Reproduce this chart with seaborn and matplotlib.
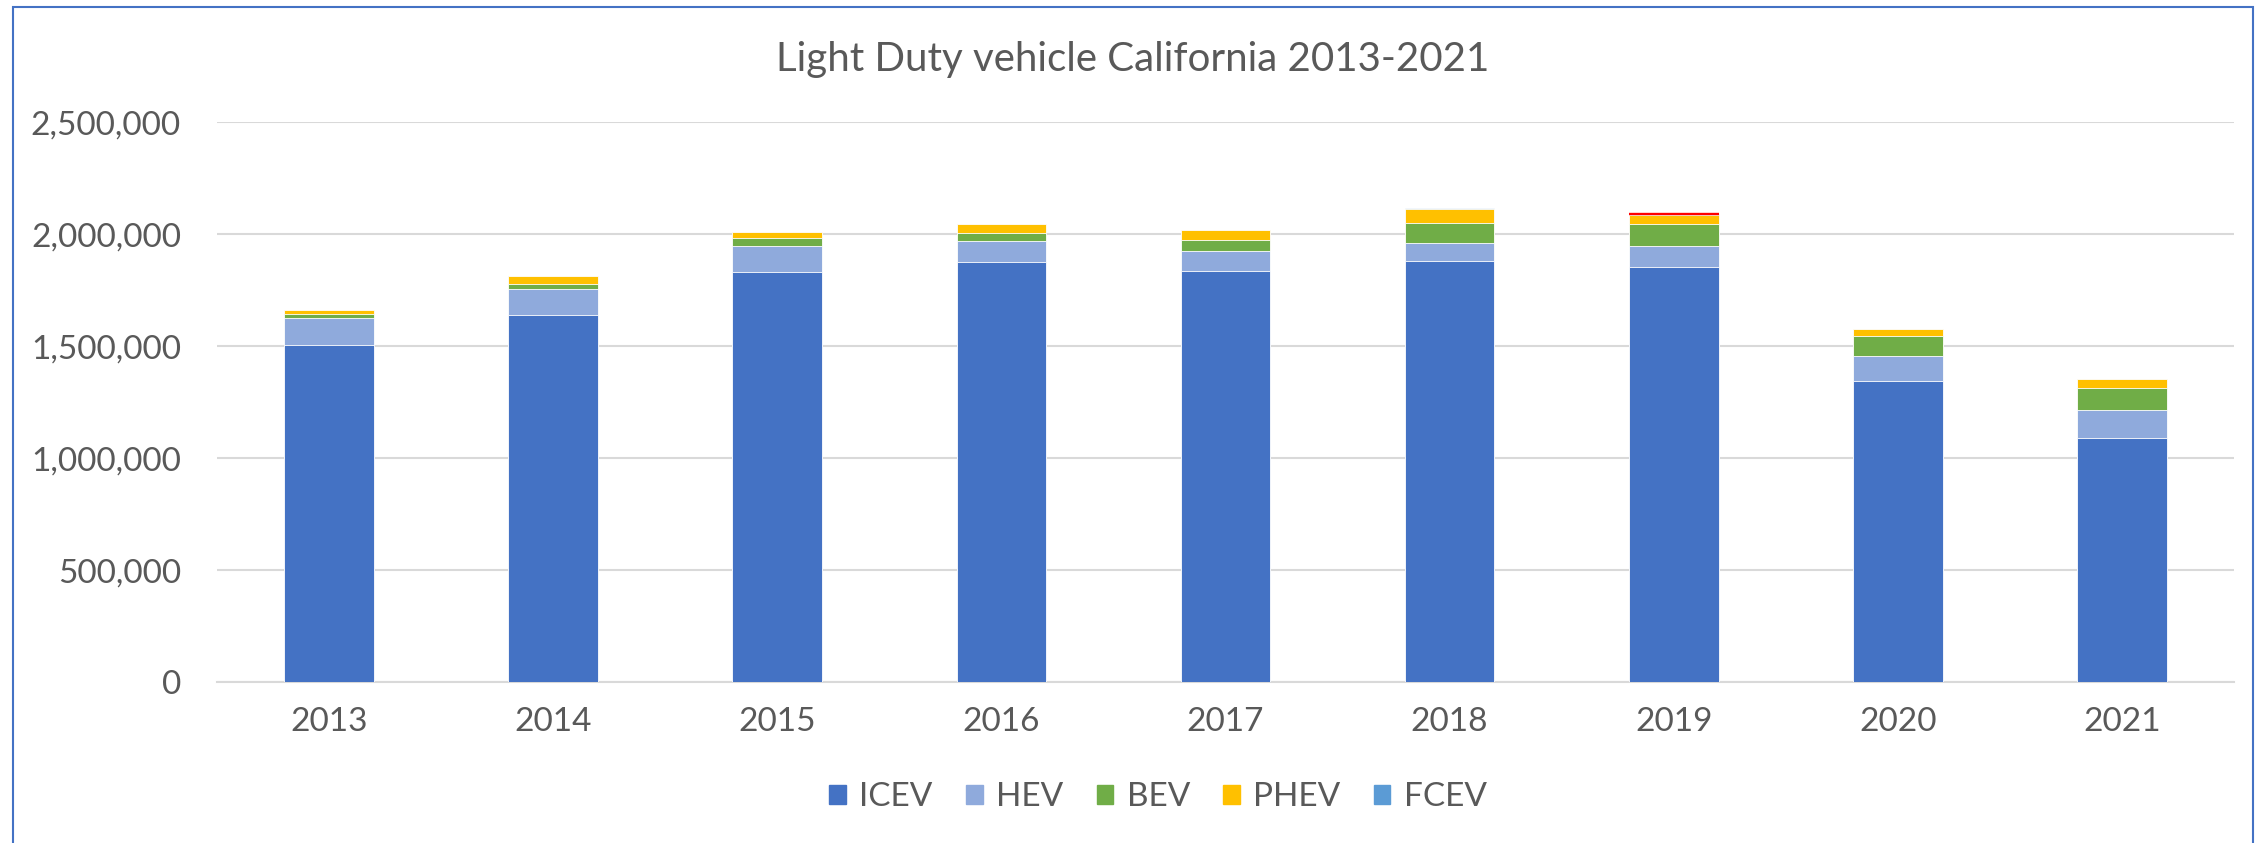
import matplotlib
matplotlib.use("Agg")
import matplotlib.pyplot as plt
import matplotlib.patches as mpatches
import seaborn as sns
import pandas as pd
import numpy as np

years = ["2013", "2014", "2015", "2016", "2017", "2018", "2019", "2020", "2021"]
icev = [1506000, 1640000, 1833000, 1875000, 1835000, 1881000, 1853000, 1346000, 1089000]
hev = [119000, 114000, 116000, 96000, 90000, 79000, 95000, 112000, 127000]
bev = [21000, 26000, 33000, 36000, 48000, 89000, 99000, 89000, 97000]
phev = [17000, 32000, 30000, 38000, 46000, 64000, 41000, 30000, 40000]
fcev = [0, 100, 100, 1000, 2300, 2400, 1800, 900, 2300]
series_names = ["ICEV", "HEV", "BEV", "PHEV", "FCEV"]
colors = ["#4472C4", "#8FAADC", "#70AD47", "#FFC000", "#5B9BD5"]
yticks = [0, 500000, 1000000, 1500000, 2000000, 2500000]
highlight_year = "2019"

sns.set_theme(style="white")
plt.rcParams['font.family'] = ['Lato', 'DejaVu Sans']
text_color = "#595959"

df = pd.DataFrame({"year": years, "ICEV": icev, "HEV": hev, "BEV": bev,
                   "PHEV": phev, "FCEV": fcev})
cum = df[series_names].cumsum(axis=1)
cum["year"] = df["year"]

fig = plt.figure(figsize=(22.64, 8.43), dpi=100)
ax = fig.add_axes([217/2264, 1-682.3/843, (2234-217)/2264, (682.3-122.3)/843])

for name, col in reversed(list(zip(series_names, colors))):
    sns.barplot(data=cum, x="year", y=name, color=col, width=0.4, ax=ax,
                edgecolor="white", linewidth=0.6, saturation=1, zorder=3)

# red marker line on top of highlighted bar
idx = years.index(highlight_year)
ax.hlines(cum.loc[idx, "FCEV"], idx - 0.2, idx + 0.2, color="#FF0000", lw=1.7, zorder=5)

ax.set_ylim(0, 2500000)
ax.set_xlim(-0.5, len(years) - 0.5)
ax.set_yticks(yticks)
ax.set_yticklabels([f"{v:,}" for v in yticks])
ax.yaxis.grid(True, color="#D9D9D9", lw=1.5, zorder=0)
ax.set_axisbelow(True)
for s in ax.spines.values():
    s.set_visible(False)
ax.spines["bottom"].set_visible(True)
ax.spines["bottom"].set_color("#D9D9D9")
ax.spines["bottom"].set_linewidth(1.5)
ax.set_xlabel("")
ax.set_ylabel("")
ax.tick_params(axis="y", length=0, pad=26, labelsize=24, labelcolor=text_color)
ax.tick_params(axis="x", length=0, pad=18, labelsize=24, labelcolor=text_color)

fig.text(1133/2264, 1-60/843, "Light Duty vehicle California 2013-2021",
         ha="center", va="center", fontsize=29, color=text_color)

handles = [mpatches.Patch(color=c, label=n) for n, c in zip(series_names, colors)]
leg = fig.legend(handles=handles, loc="center", bbox_to_anchor=(1158/2264, 1-797/843),
                 ncol=5, frameon=False, fontsize=24, handlelength=0.5, handleheight=0.5,
                 handletextpad=0.4, columnspacing=1.0)
for t in leg.get_texts():
    t.set_color(text_color)

fig.patches.append(mpatches.Rectangle((13/2264, -0.05), (2253-13)/2264, 1.05 - 7/843,
                                      transform=fig.transFigure, fill=False,
                                      edgecolor="#4472C4", lw=1.5, zorder=10))

fig.savefig("out.png", dpi=100, facecolor="white")
